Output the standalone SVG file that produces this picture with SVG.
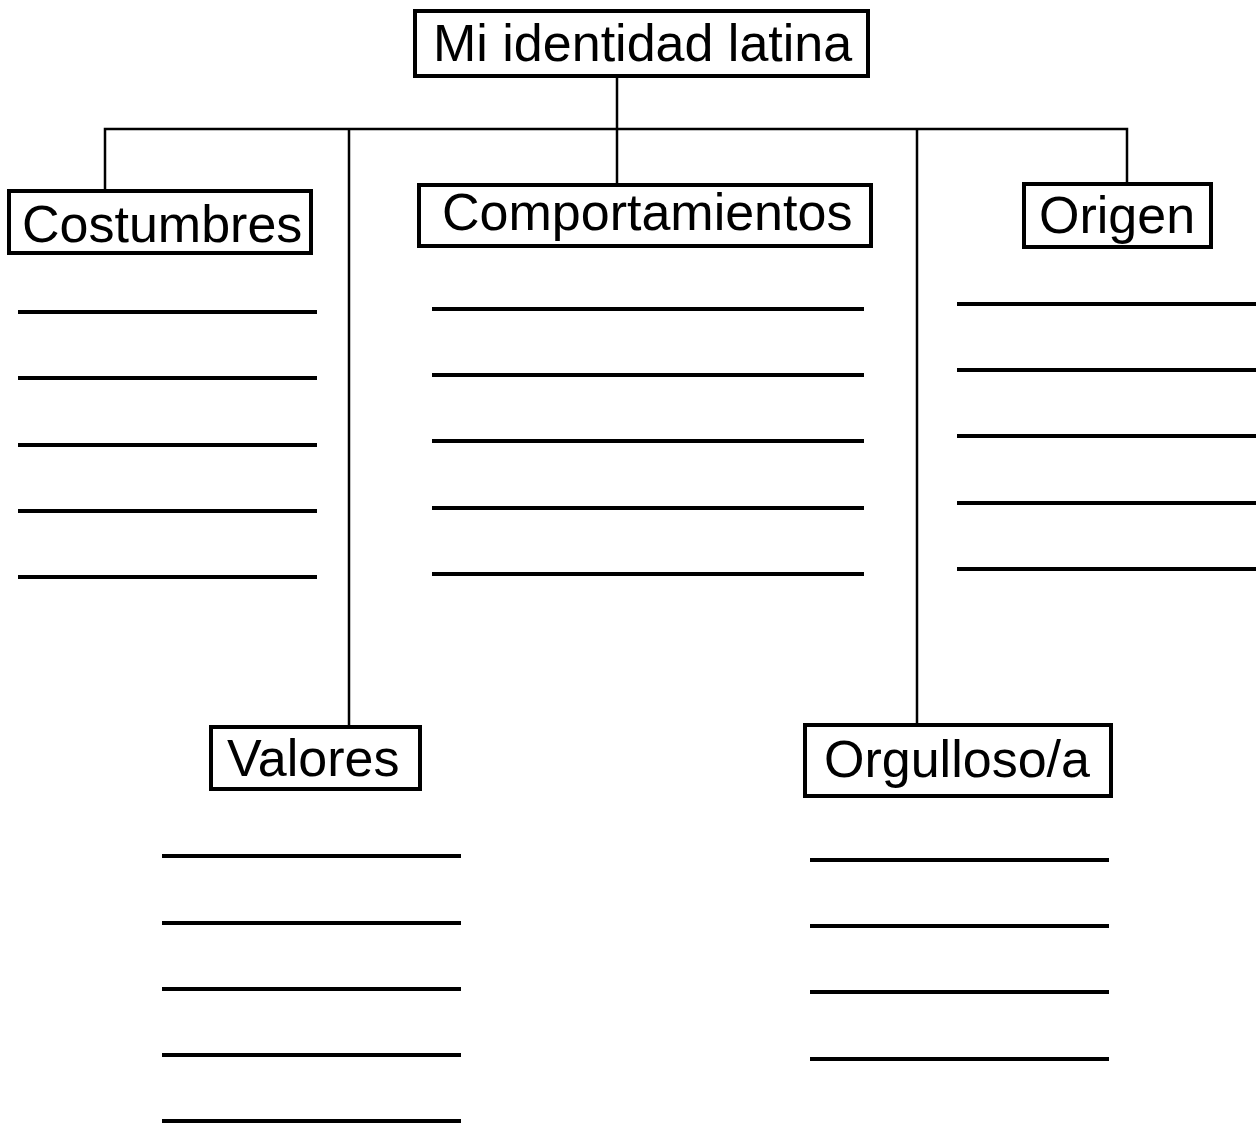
<svg xmlns="http://www.w3.org/2000/svg" width="1259" height="1123" viewBox="0 0 1259 1123">
<style>
.box{fill:#fff;stroke:#000;stroke-width:4}
.lbl{font-family:"Liberation Sans",Arial,sans-serif;font-size:52px;fill:#000}
.conn{stroke:#000;stroke-width:2.5;fill:none}
.blank{stroke:#000;stroke-width:4}
</style>
<rect width="1259" height="1123" fill="#fff"/>
<g id="connectors">
<line class="conn" x1="617" y1="77" x2="617" y2="185"/>
<polyline class="conn" points="105,189 105,129 1127,129 1127,184"/>
<line class="conn" x1="349" y1="129" x2="349" y2="727"/>
<line class="conn" x1="917" y1="129" x2="917" y2="725"/>
</g>
<g id="node-root">
<rect class="box" x="415" y="11" width="453" height="65"/>
<text class="lbl" x="433" y="61">Mi identidad latina</text>
</g>
<g id="node-costumbres">
<rect class="box" x="9" y="191" width="302" height="62"/>
<text class="lbl" x="22" y="242">Costumbres</text>
<g class="blank">
<line x1="18" y1="312" x2="317" y2="312"/>
<line x1="18" y1="378" x2="317" y2="378"/>
<line x1="18" y1="445" x2="317" y2="445"/>
<line x1="18" y1="511" x2="317" y2="511"/>
<line x1="18" y1="577" x2="317" y2="577"/>
</g>
</g>
<g id="node-comportamientos">
<rect class="box" x="419" y="185" width="452" height="61"/>
<text class="lbl" x="442" y="230">Comportamientos</text>
<g class="blank">
<line x1="432" y1="309" x2="864" y2="309"/>
<line x1="432" y1="375" x2="864" y2="375"/>
<line x1="432" y1="441" x2="864" y2="441"/>
<line x1="432" y1="508" x2="864" y2="508"/>
<line x1="432" y1="574" x2="864" y2="574"/>
</g>
</g>
<g id="node-origen">
<rect class="box" x="1024" y="184" width="187" height="63"/>
<text class="lbl" x="1039" y="233">Origen</text>
<g class="blank">
<line x1="957" y1="304" x2="1256" y2="304"/>
<line x1="957" y1="370" x2="1256" y2="370"/>
<line x1="957" y1="436" x2="1256" y2="436"/>
<line x1="957" y1="503" x2="1256" y2="503"/>
<line x1="957" y1="569" x2="1256" y2="569"/>
</g>
</g>
<g id="node-valores">
<rect class="box" x="211" y="727" width="209" height="62"/>
<text class="lbl" x="227" y="776">Valores</text>
<g class="blank">
<line x1="162" y1="856" x2="461" y2="856"/>
<line x1="162" y1="923" x2="461" y2="923"/>
<line x1="162" y1="989" x2="461" y2="989"/>
<line x1="162" y1="1055" x2="461" y2="1055"/>
<line x1="162" y1="1121" x2="461" y2="1121"/>
</g>
</g>
<g id="node-orgulloso">
<rect class="box" x="805" y="725" width="306" height="71"/>
<text class="lbl" x="824" y="777">Orgulloso/a</text>
<g class="blank">
<line x1="810" y1="860" x2="1109" y2="860"/>
<line x1="810" y1="926" x2="1109" y2="926"/>
<line x1="810" y1="992" x2="1109" y2="992"/>
<line x1="810" y1="1059" x2="1109" y2="1059"/>
</g>
</g>
</svg>
